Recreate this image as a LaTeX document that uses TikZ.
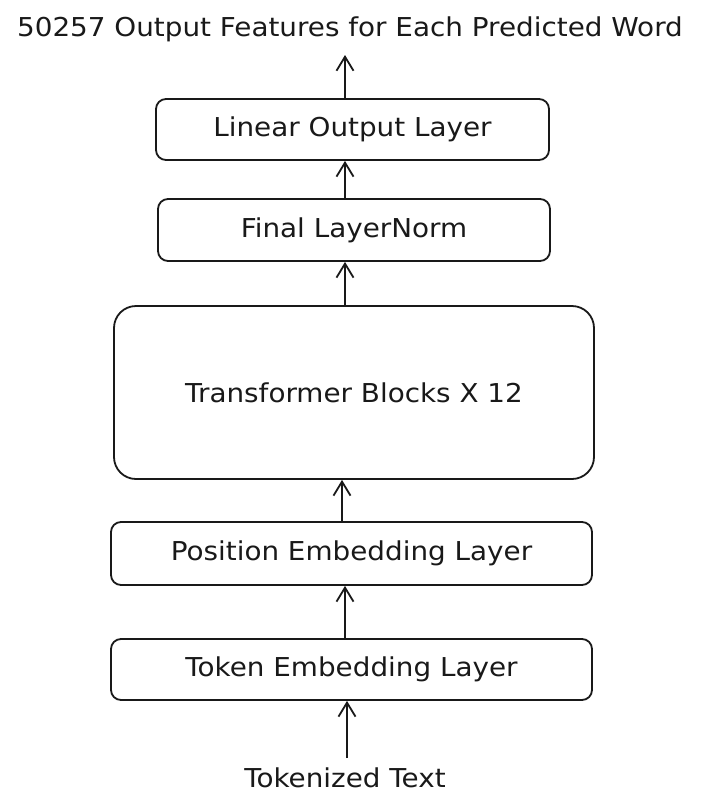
\documentclass[tikz,border=0pt]{standalone}
\usepackage{fontspec}
\setmainfont{DejaVu Sans}[FakeStretch=1.07]
\usetikzlibrary{arrows.meta}
\begin{document}
\begin{tikzpicture}[x=1pt,y=-1pt,
  box/.style={draw=black!90, line width=1.8pt, rounded corners=10pt, inner sep=0pt},
  bigbox/.style={box, rounded corners=22pt},
  lbl/.style={font=\fontsize{26}{30}\selectfont, text=black!90},
  conn/.style={draw=black!90, line width=2.2pt, -{Straight Barb[length=14pt,width=17pt,line width=1.8pt]}}]
\useasboundingbox (0,0) rectangle (704,807);
\node[box, minimum width=393pt, minimum height=61pt] (lin) at (352.5,129.5) {};
\node[lbl] at (lin.center) {Linear Output Layer};
\node[box, minimum width=392pt, minimum height=62pt] (fin) at (354,230) {};
\node[lbl] at (fin.center) {Final LayerNorm};
\node[bigbox, minimum width=480pt, minimum height=173pt] (tb) at (354,392.5) {};
\node[lbl] at (tb.center) {Transformer Blocks X 12};
\node[box, minimum width=481pt, minimum height=63pt] (pos) at (351.5,553.5) {};
\node[lbl] at (pos.center) {Position Embedding Layer};
\node[box, minimum width=481pt, minimum height=61pt] (tok) at (351.5,669.5) {};
\node[lbl] at (tok.center) {Token Embedding Layer};
\node[lbl] (out) at (350,29) {50257 Output Features for Each Predicted Word};
\node[lbl] (in) at (345,778) {Tokenized Text};
\coordinate (outtip) at (345,55);
\coordinate (intail) at (347,758);
\draw[conn] (345,0 |- lin.north) -- (outtip);
\draw[conn] (345,0 |- fin.north) -- (345,0 |- lin.south);
\draw[conn] (345,0 |- tb.north) -- (345,0 |- fin.south);
\draw[conn] (342,0 |- pos.north) -- (342,0 |- tb.south);
\draw[conn] (345,0 |- tok.north) -- (345,0 |- pos.south);
\draw[conn] (intail) -- (347,0 |- tok.south);
\end{tikzpicture}
\end{document}
